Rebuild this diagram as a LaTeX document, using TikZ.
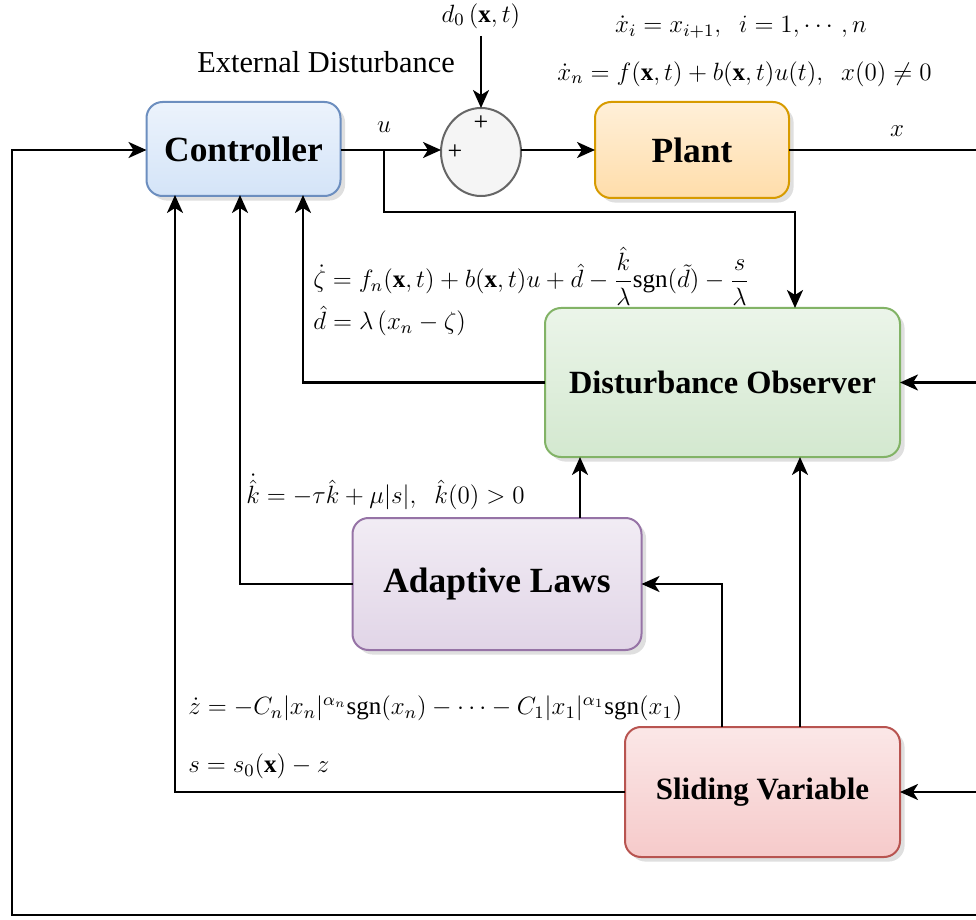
\RequirePackage{fix-cm}
\documentclass[tikz,border=0pt]{standalone}
\usepackage{amsmath}
\usepackage{fontspec}
\setmainfont{Liberation Serif}
\newfontfamily\blkfont{Liberation Serif}
\usetikzlibrary{arrows.meta,shadows,shapes.geometric}

\definecolor{ctrlline}{HTML}{6C8EBF}
\definecolor{ctrlfill}{HTML}{D4E4F8}
\definecolor{plantline}{HTML}{D79B00}
\definecolor{plantfill}{HTML}{FFDDAA}
\definecolor{obsline}{HTML}{82B366}
\definecolor{obsfill}{HTML}{D3E8CF}
\definecolor{adline}{HTML}{9673A6}
\definecolor{adfill}{HTML}{E1D5E7}
\definecolor{slline}{HTML}{B85450}
\definecolor{slfill}{HTML}{F6CACA}

\tikzset{
  block/.style 2 args={draw=#1, line width=1pt, top color=white!55!#2, bottom color=#2,
    rounded corners=8pt, drop shadow={opacity=0.25}, inner sep=0pt, outer sep=0pt,
    font=\blkfont\fontsize{17.7}{20}\selectfont\bfseries},
  flow/.style={line width=1.3pt, -{Stealth[length=9pt,width=8pt,inset=2.5pt]}},
  wire/.style={line width=1.3pt},
  eqn/.style={inner sep=0pt, font=\fontsize{12.5}{14}\selectfont},
}

\begin{document}
\begin{tikzpicture}[x=0.5pt,y=-0.5pt]

\useasboundingbox (0,0) rectangle (976,920);

% blocks
\node[block={ctrlline}{ctrlfill}, minimum width=97pt, minimum height=47pt] (ctrl) at (243.5,149) {Controller};
\node[block={plantline}{plantfill}, minimum width=97pt, minimum height=48pt] (plant) at (692,150) {Plant};
\node[block={obsline}{obsfill}, minimum width=177.5pt, minimum height=74.5pt,
      font=\blkfont\fontsize{16.2}{18}\selectfont\bfseries] (dob) at (722.5,382.5) {Disturbance Observer};
\node[block={adline}{adfill}, minimum width=144.5pt, minimum height=66pt] (adapt) at (497,584) {Adaptive Laws};
\node[block={slline}{slfill}, minimum width=137.5pt, minimum height=65pt,
      font=\blkfont\fontsize{15.5}{18}\selectfont\bfseries] (slide) at (762.5,792) {Sliding Variable};

% summing junction
\node[ellipse, draw=black!60, line width=1pt, fill=black!4, minimum width=40pt, minimum height=44pt,
      inner sep=0pt, outer sep=0pt] (sum) at (481,152) {};
\node[font=\blkfont\fontsize{13}{14}\selectfont, inner sep=0pt] (plusa) at (481,123) {+};
\node[font=\blkfont\fontsize{13}{14}\selectfont, inner sep=0pt] (plusb) at (455,152) {+};

% labels
\node[font=\blkfont\fontsize{15.2}{17}\selectfont, inner sep=0pt] (extd) at (326,62) {External Disturbance};
\node[eqn] (dzero) at (481,16) {$d_0\left(\mathbf{x},t\right)$};
\node[eqn] (ulab) at (384,127) {$u$};
\node[eqn] (xlab) at (897,131) {$x$};
\node[eqn] (eqa) at (741,27) {$\dot{x}_i = x_{i+1},\;\; i=1,\cdots,n$};
\node[eqn, anchor=west] (eqb) at (557,74) {$\dot{x}_n = f(\mathbf{x},t)+b(\mathbf{x},t)u(t),\;\; x(0)\neq 0$};
\node[eqn, anchor=west] (eqc) at (313,276) {$\dot{\zeta} = f_n(\mathbf{x},t)+b(\mathbf{x},t)u+\hat{d}-\dfrac{\hat{k}}{\lambda}\mathrm{sgn}(\tilde{d})-\dfrac{s}{\lambda}$};
\node[eqn, anchor=west] (eqd) at (313,321) {$\hat{d} = \lambda\left(x_n-\zeta\right)$};
\node[eqn, anchor=west] (eqe) at (246,492) {$\dot{\hat{k}} = -\tau\hat{k}+\mu|s|,\;\; \hat{k}(0)>0$};
\node[eqn, anchor=west] (eqf) at (188,708) {$\dot{z} = -C_n|x_n|^{\alpha_n}\mathrm{sgn}(x_n)-\cdots-C_1|x_1|^{\alpha_1}\mathrm{sgn}(x_1)$};
\node[eqn, anchor=west] (eqg) at (188,766) {$s = s_0(\mathbf{x})-z$};

% helper points
\coordinate (dtop) at (481,36);
\coordinate (ubr) at (384,150);
\coordinate (udn) at (384,212);
\coordinate (doin) at (795,308);
\coordinate (rgt) at (976,150);
\coordinate (rbot) at (976,915);
\coordinate (lbot) at (12,915);
\coordinate (cina) at (175,195);
\coordinate (cinb) at (240,195);
\coordinate (cinc) at (303,195);
\coordinate (aup) at (580,518);
\coordinate (sup) at (800,727);
\coordinate (sleft) at (722,727);

% forward path
\draw[flow] (ctrl.east |- ubr) -- (sum.west |- ubr);
\draw[flow] (dtop) -- (sum);
\draw[flow] (sum.east |- ubr) -- (plant.west |- ubr);
\draw[wire] (plant.east |- ubr) -- (rgt);
\draw[flow] (ubr) -- (udn) -| (doin);

% feedback
\draw[flow] (rbot) -- (lbot) |- (ctrl.west |- ubr);
\draw[flow] (dob.east -| rgt) -- (dob);
\draw[flow] (slide.east -| rgt) -- (slide);
\draw[flow] (dob) -| (cinc);
\draw[flow] (adapt) -| (cinb);
\draw[flow] (slide) -| (cina);
\draw[flow] (aup) -- (aup |- dob.south);
\draw[flow] (sup) -- (sup |- dob.south);
\draw[flow] (sleft) |- (adapt);

\end{tikzpicture}
\end{document}
